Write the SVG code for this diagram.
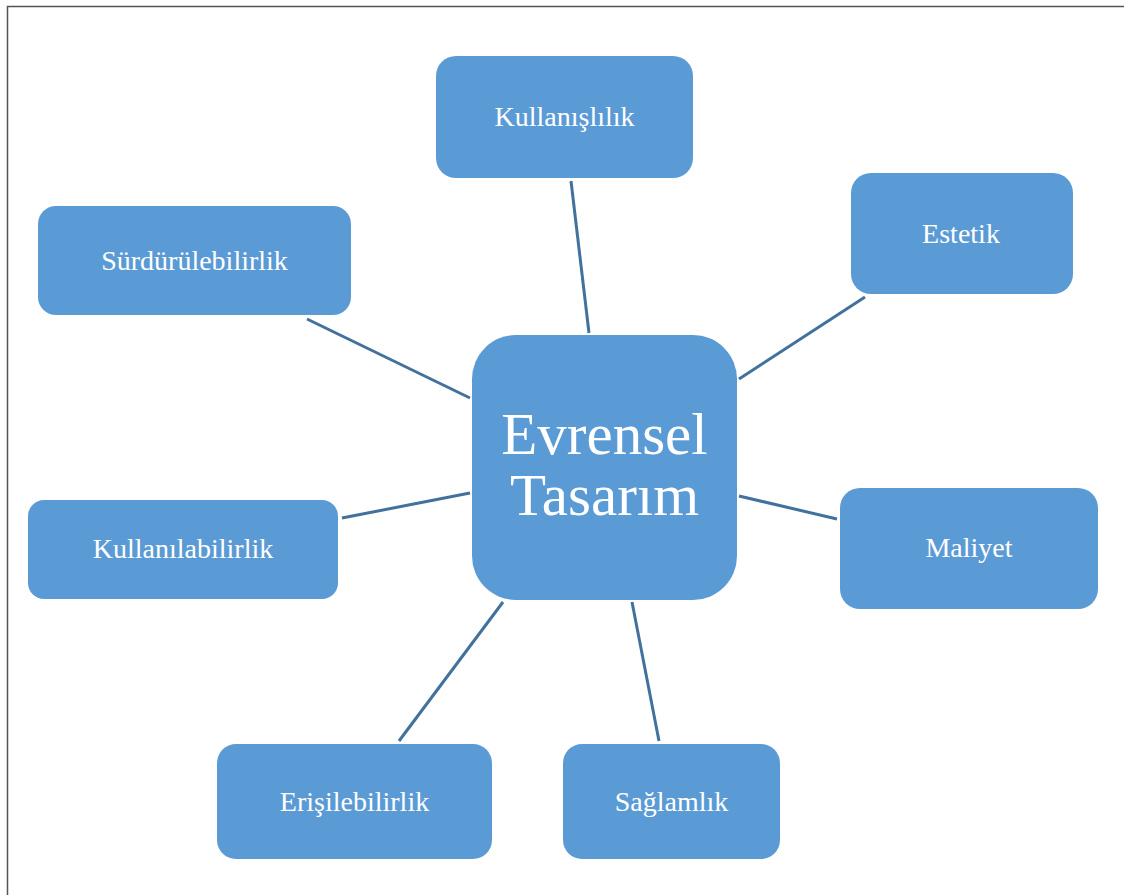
<svg xmlns="http://www.w3.org/2000/svg" width="1124" height="895" viewBox="0 0 1124 895">
<style>
.box{fill:#5B9BD5;}
.lbl{font-family:"Liberation Serif","Times New Roman",serif;font-size:28px;fill:#ffffff;text-anchor:middle;}
.big{font-family:"Liberation Serif","Times New Roman",serif;font-size:59px;fill:#ffffff;text-anchor:middle;}
.conn line{stroke:#41719C;stroke-width:3;}
</style>
<rect x="0" y="0" width="1124" height="895" fill="#ffffff"/>
<path d="M7.5 895 V6.5 H1124" fill="none" stroke="#555555" stroke-width="1.5"/>
<g id="connectors" class="conn">
<line x1="571" y1="181" x2="589" y2="333"/>
<line x1="865" y1="297" x2="739" y2="379"/>
<line x1="307" y1="319" x2="470" y2="398"/>
<line x1="342" y1="518" x2="470" y2="493"/>
<line x1="739" y1="496" x2="837" y2="519"/>
<line x1="503" y1="602" x2="399" y2="741"/>
<line x1="632" y1="602" x2="659" y2="741"/>
</g>
<g id="center">
<rect class="box" x="472" y="335" width="265" height="265" rx="44"/>
<text class="big" x="604.5" y="454">Evrensel</text>
<text class="big" x="604.5" y="515">Tasarım</text>
</g>
<g id="kullanislilik">
<rect class="box" x="436" y="56" width="257" height="122" rx="20"/>
<text class="lbl" x="564.5" y="126">Kullanışlılık</text>
</g>
<g id="estetik">
<rect class="box" x="851" y="173" width="222" height="121" rx="20"/>
<text class="lbl" x="961" y="243">Estetik</text>
</g>
<g id="surdurulebilirlik">
<rect class="box" x="38" y="206" width="313" height="109" rx="18"/>
<text class="lbl" x="194.5" y="270">Sürdürülebilirlik</text>
</g>
<g id="kullanilabilirlik">
<rect class="box" x="28" y="500" width="310" height="99" rx="16"/>
<text class="lbl" x="183" y="558">Kullanılabilirlik</text>
</g>
<g id="maliyet">
<rect class="box" x="840" y="488" width="258" height="121" rx="20"/>
<text class="lbl" x="969" y="557">Maliyet</text>
</g>
<g id="erisilebilirlik">
<rect class="box" x="217" y="744" width="275" height="115" rx="19"/>
<text class="lbl" x="354.5" y="811">Erişilebilirlik</text>
</g>
<g id="saglamlik">
<rect class="box" x="563" y="744" width="217" height="115" rx="19"/>
<text class="lbl" x="671.5" y="811">Sağlamlık</text>
</g>
</svg>
